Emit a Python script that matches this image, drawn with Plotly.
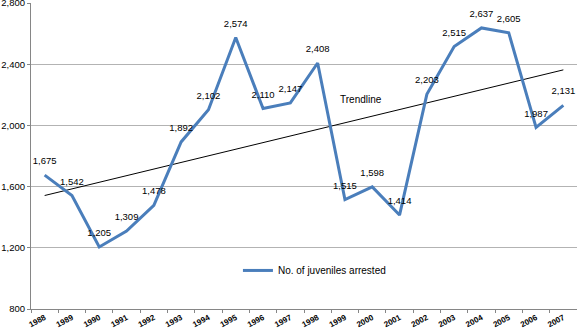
import numpy as np
import plotly.graph_objects as go

years = [str(y) for y in range(1988, 2008)]
arrests = [1675, 1542, 1205, 1309, 1478, 1892, 2102, 2574, 2110, 2147,
           2408, 1515, 1598, 1414, 2203, 2515, 2637, 2605, 1987, 2131]
y_ticks = [800, 1200, 1600, 2000, 2400, 2800]
series_name = "No. of juveniles arrested"

idx = np.arange(len(years))
slope, intercept = np.polyfit(idx, arrests, 1)
trend = [float(slope * i + intercept) for i in idx]

FONT = "Liberation Sans, Arial, sans-serif"
BLUE = "#4A7EBB"

fig = go.Figure()
fig.add_trace(go.Scatter(
    x=years, y=trend, mode="lines",
    line=dict(color="black", width=1), showlegend=False, hoverinfo="skip"))
fig.add_trace(go.Scatter(
    x=years, y=arrests, mode="lines+markers+text", name=series_name,
    line=dict(color=BLUE, width=3),
    marker=dict(size=12, color="rgba(0,0,0,0)", line=dict(width=0)),
    text=[f"{v:,}" for v in arrests], textposition="top center",
    textfont=dict(family=FONT, size=9.5, color="#000000")))

fig.add_annotation(x=11.6, y=2170, xref="x", yref="y", text="Trendline",
                   showarrow=False, font=dict(family=FONT, size=10, color="#000"),
                   xanchor="center", yanchor="middle")

fig.update_layout(
    width=577, height=329,
    margin=dict(l=31, r=0, t=3, b=20),
    paper_bgcolor="white", plot_bgcolor="white",
    font=dict(family=FONT, size=9, color="#000"),
    legend=dict(x=0.379, y=0.126, xanchor="left", yanchor="middle",
                bgcolor="rgba(0,0,0,0)", font=dict(family=FONT, size=10),
                itemwidth=30),
)
fig.update_xaxes(
    type="category", range=[-0.5, 19.5], tickson="boundaries",
    ticks="outside", ticklen=3, tickcolor="#868686",
    tickangle=-28, tickfont=dict(family=FONT, size=8, color="#000", weight="bold"),
    showline=True, linecolor="#868686", linewidth=1, showgrid=False,
    automargin=False, ticklabeloverflow="allow",
)
fig.update_yaxes(
    range=[800, 2800], tickvals=y_ticks, ticktext=[f"{v:,}" for v in y_ticks],
    ticks="outside", ticklen=3, tickcolor="#868686",
    tickfont=dict(family=FONT, size=9.5, color="#000"),
    showline=True, linecolor="#868686", linewidth=1,
    showgrid=True, gridcolor="#B3B3B3", gridwidth=1, zeroline=False,
    automargin=False, ticklabeloverflow="allow",
)

fig.write_html("out.html", config={"displayModeBar": False},
               post_script="document.body.style.margin='0';document.body.style.overflow='hidden';")
